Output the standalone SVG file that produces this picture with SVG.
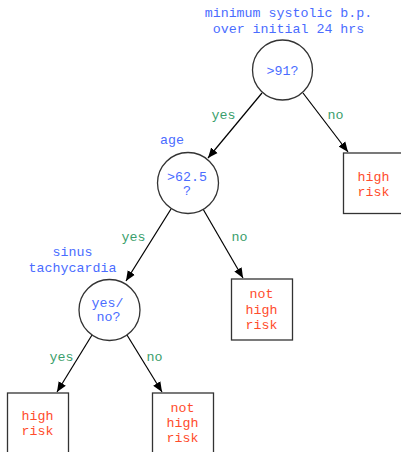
<svg xmlns="http://www.w3.org/2000/svg" width="401" height="452" viewBox="0 0 401 452">
  <defs>
    <marker id="arrow" viewBox="0 0 10 10" refX="10" refY="5" markerWidth="10" markerHeight="10" markerUnits="userSpaceOnUse" orient="auto">
      <path d="M0,0.8 L10,5 L0,9.2 Z" fill="#000"/>
    </marker>
  </defs>
  <style>
    text { font-family: "Liberation Mono", "Courier New", monospace; font-size: 13.3px; text-anchor: middle; }
    .q { fill: #4a6cff; }
    .e { fill: #3a9e6c; }
    .r { fill: #ff4c2c; }
    .node { fill: #fff; stroke: #333; stroke-width: 1.3; }
    .edge { fill: none; stroke: #000; stroke-width: 1.2; marker-end: url(#arrow); }
  </style>
  <rect width="401" height="452" fill="#fff"/>

  <!-- connectors -->
  <g id="edges">
    <path class="edge" d="M262,93 L208,158"/>
    <path class="edge" d="M303,93 L348,152"/>
    <path class="edge" d="M171,209 L126,281"/>
    <path class="edge" d="M203,209 L243,278"/>
    <path class="edge" d="M92,335 L57,392"/>
    <path class="edge" d="M127,335 L162,392"/>
    <text class="e" x="223.5" y="119">yes</text>
    <text class="e" x="335.5" y="119">no</text>
    <text class="e" x="133.5" y="241">yes</text>
    <text class="e" x="239.5" y="241">no</text>
    <text class="e" x="61.5" y="361">yes</text>
    <text class="e" x="154.5" y="361">no</text>
  </g>

  <!-- decision: minimum systolic b.p. -->
  <g id="n-bp">
    <text class="q" x="288.5" y="17">minimum systolic b.p.</text>
    <text class="q" x="288.5" y="32.5">over initial 24 hrs</text>
    <circle class="node" cx="282.5" cy="70" r="30"/>
    <text class="q" x="282.5" y="74.5">&gt;91?</text>
  </g>

  <!-- decision: age -->
  <g id="n-age">
    <text class="q" x="172" y="144">age</text>
    <circle class="node" cx="188" cy="183" r="30.5"/>
    <text class="q" x="187" y="180.5">&gt;62.5</text>
    <text class="q" x="187" y="194.5">?</text>
  </g>

  <!-- decision: sinus tachycardia -->
  <g id="n-sinus">
    <text class="q" x="72.5" y="256">sinus</text>
    <text class="q" x="72.5" y="271.5">tachycardia</text>
    <circle class="node" cx="109.5" cy="310" r="30.5"/>
    <text class="q" x="107.5" y="306.5">yes/</text>
    <text class="q" x="108.5" y="321">no?</text>
  </g>

  <!-- outcome boxes -->
  <g id="leaf-high-1">
    <rect class="node" x="343.5" y="153" width="61" height="60.5"/>
    <text class="r" x="373.5" y="180.5">high</text>
    <text class="r" x="373.5" y="195.5">risk</text>
  </g>
  <g id="leaf-not-1">
    <rect class="node" x="231.5" y="279" width="61" height="61"/>
    <text class="r" x="261.5" y="297.5">not</text>
    <text class="r" x="261.5" y="313.5">high</text>
    <text class="r" x="261.5" y="329">risk</text>
  </g>
  <g id="leaf-high-2">
    <rect class="node" x="7.5" y="393" width="61" height="61"/>
    <text class="r" x="37.5" y="420">high</text>
    <text class="r" x="37.5" y="434.5">risk</text>
  </g>
  <g id="leaf-not-2">
    <rect class="node" x="152.5" y="393" width="61" height="61"/>
    <text class="r" x="182.5" y="412">not</text>
    <text class="r" x="182.5" y="427">high</text>
    <text class="r" x="182.5" y="442">risk</text>
  </g>
</svg>
